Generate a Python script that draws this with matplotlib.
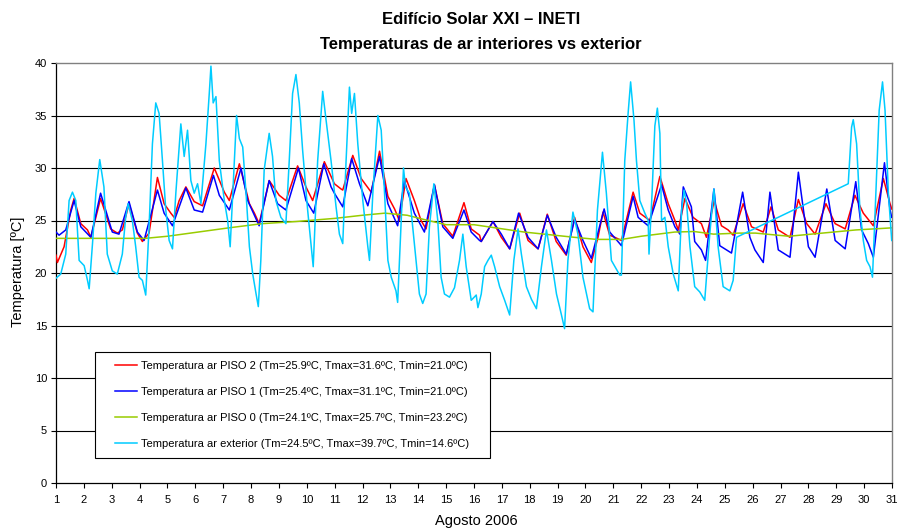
import matplotlib
matplotlib.use("Agg")
import matplotlib.pyplot as plt
from matplotlib.patches import Rectangle

# ---------------- data ----------------
ext_day = [1.00, 1.17, 1.35, 1.47, 1.59, 1.71, 1.83, 2.01, 2.13, 2.19, 2.31, 2.43, 2.57, 2.72, 2.84,
           3.02, 3.20, 3.38, 3.50, 3.59, 3.74, 3.86, 3.98, 4.10, 4.22, 4.34, 4.46, 4.58, 4.70, 4.82,
           4.94, 5.06, 5.18, 5.30, 5.48, 5.60, 5.72, 5.84, 5.96, 6.08, 6.20, 6.38, 6.50, 6.56, 6.64,
           6.74, 6.86, 7.04, 7.16, 7.25, 7.37, 7.48, 7.58, 7.70, 7.82, 7.94, 8.06, 8.18, 8.26, 8.35,
           8.47, 8.65, 8.77, 8.89, 9.07, 9.25, 9.37, 9.49, 9.61, 9.73, 9.85, 10.03, 10.23, 10.39,
           10.57, 10.69, 10.87, 11.05, 11.17, 11.29, 11.41, 11.53, 11.61, 11.71, 11.83, 12.01, 12.19,
           12.25, 12.37, 12.55, 12.67, 12.79, 12.91, 13.03, 13.20, 13.26, 13.38, 13.47, 13.54, 13.68,
           13.86, 14.04, 14.16, 14.28, 14.40, 14.56, 14.70, 14.82, 14.94, 15.12, 15.30, 15.48, 15.60,
           15.72, 15.90, 16.08, 16.14, 16.26, 16.38, 16.50, 16.62, 16.74, 16.92, 17.10, 17.28, 17.43,
           17.58, 17.70, 17.88, 18.06, 18.24, 18.42, 18.60, 18.78, 18.96, 19.13, 19.25, 19.37, 19.55,
           19.73, 19.91, 20.15, 20.27, 20.43, 20.61, 20.75, 20.93, 21.23, 21.29, 21.41, 21.53, 21.62,
           21.74, 21.83, 21.95, 22.13, 22.25, 22.28, 22.39, 22.49, 22.58, 22.67, 22.73, 22.85, 22.97,
           23.15, 23.33, 23.45, 23.54, 23.63, 23.75, 23.92, 24.10, 24.28, 24.46, 24.61, 24.76, 24.94,
           25.18, 25.30, 25.42, 29.43, 29.55, 29.61, 29.73, 29.85, 29.97, 30.09, 30.21, 30.30, 30.42,
           30.54, 30.66, 30.75, 30.87, 30.99]
ext_temp = [19.5, 19.9, 21.8, 26.9, 27.7, 26.9, 21.2, 20.7, 19.3, 18.5, 22.8, 27.6, 30.8, 28.2, 21.8,
            20.2, 19.9, 21.8, 25.3, 26.6, 25.0, 22.5, 19.6, 19.3, 17.9, 24.4, 32.3, 36.2, 35.2, 30.7,
            26.0, 23.1, 22.3, 27.6, 34.2, 31.1, 33.6, 28.8, 27.6, 28.5, 26.6, 32.3, 37.1, 39.7, 36.2,
            36.8, 30.7, 26.9, 25.0, 22.5, 29.1, 35.0, 32.8, 32.0, 27.6, 22.5, 19.9, 18.0, 16.8, 21.2,
            29.8, 33.3, 31.1, 26.9, 25.3, 24.7, 30.7, 37.1, 38.9, 36.2, 31.7, 26.0, 20.6, 30.7,
            37.3, 34.6, 30.7, 26.3, 23.7, 22.8, 30.7, 37.7, 35.2, 37.1, 32.3, 26.9, 22.5,
            21.2, 27.6, 35.0, 33.6, 27.6, 21.2, 19.6, 18.3, 17.2, 24.4, 30.0, 28.2, 27.6,
            22.8, 18.0, 17.1, 18.0, 24.4, 28.5, 25.0, 19.6, 18.0, 17.7, 18.6, 21.2, 23.7,
            20.6, 17.4, 17.9, 16.7, 18.0, 20.6, 21.2, 21.7, 20.6, 18.7, 17.4, 16.0, 21.2,
            24.2, 21.8, 18.7, 17.5, 16.6, 20.6, 24.1, 21.2, 18.0, 16.1, 14.7, 21.2, 25.8,
            23.7, 19.6, 16.6, 16.3, 26.0, 31.5, 27.6, 21.2, 19.8, 19.8, 30.7, 35.2, 38.2,
            34.6, 30.7, 26.9, 25.7, 25.0, 21.8, 27.6, 34.0, 35.7, 33.3, 25.0, 25.3, 22.5,
            19.9, 18.3, 26.0, 27.9, 26.6, 22.5, 18.7, 18.2, 17.4, 23.7, 28.0, 22.5, 18.7,
            18.3, 19.3, 23.4, 28.5, 33.9, 34.6, 32.3, 26.0, 23.1, 21.2, 20.6, 19.6, 27.6,
            35.5, 38.2, 35.5, 27.6, 23.1]

p2_day = [1.00, 1.05, 1.29, 1.53, 1.65, 1.89, 2.13, 2.25, 2.43, 2.60, 2.96, 3.20, 3.38, 3.62, 3.92,
          4.10, 4.34, 4.64, 4.88, 5.12, 5.24, 5.42, 5.66, 5.96, 6.26, 6.68, 7.04, 7.22, 7.58, 7.94,
          8.12, 8.29, 8.65, 9.01, 9.25, 9.67, 9.97, 10.21, 10.63, 10.99, 11.23, 11.29, 11.65, 11.95,
          12.31, 12.61, 12.91, 13.15, 13.32, 13.56, 13.86, 14.10, 14.28, 14.58, 14.88, 15.24, 15.64,
          15.90, 16.20, 16.26, 16.68, 16.98, 17.28, 17.64, 17.94, 18.30, 18.63, 18.95, 19.31, 19.61,
          19.91, 20.21, 20.45, 20.63, 20.87, 21.05, 21.29, 21.71, 21.95, 22.31, 22.67, 22.97, 23.21,
          23.33, 23.57, 23.86, 24.16, 24.34, 24.62, 24.88, 25.12, 25.30, 25.66, 25.96, 26.38, 26.66,
          26.92, 27.34, 27.64, 27.94, 28.24, 28.63, 28.96, 29.32, 29.67, 29.97, 30.33, 30.69, 30.93,
          30.99]
p2_temp = [21.7, 21.0, 22.5, 26.0, 27.1, 24.7, 24.1, 23.4, 25.3, 27.1, 24.2, 23.8, 24.1, 26.6, 23.8,
           23.0, 23.8, 29.1, 26.6, 25.7, 25.3, 26.9, 28.2, 26.8, 26.4, 30.0, 27.7, 26.9, 30.4, 26.6,
           25.7, 24.7, 28.8, 27.4, 26.9, 30.2, 28.2, 26.9, 30.6, 28.5, 28.0, 27.9, 31.2, 29.0,
           27.7, 31.6, 27.3, 26.1, 25.0, 29.0, 26.9, 25.0, 24.2, 28.4, 24.7, 23.5, 26.7,
           24.2, 23.6, 23.0, 24.9, 23.4, 22.3, 25.7, 23.1, 22.3, 25.6, 23.0, 21.7, 25.3,
           22.5, 21.0, 23.4, 25.8, 23.6, 23.4, 23.1, 27.7, 25.7, 25.0, 29.2, 26.6, 25.0,
           24.1, 27.1, 25.3, 24.7, 23.4, 26.9, 24.5, 24.1, 23.6, 26.6, 24.4, 23.9, 26.3,
           24.1, 23.4, 27.0, 24.7, 23.7, 26.6, 24.7, 24.2, 27.4, 25.7, 24.5, 29.0, 26.6,
           26.1]

p1_day = [1.00, 1.11, 1.35, 1.65, 1.89, 2.25, 2.60, 3.02, 3.26, 3.62, 3.92, 4.16, 4.64, 4.88, 5.18,
          5.66, 5.96, 6.26, 6.65, 6.86, 7.22, 7.64, 7.88, 8.29, 8.65, 8.95, 9.25, 9.70, 9.97, 10.25,
          10.61, 10.87, 10.99, 11.29, 11.61, 11.89, 12.19, 12.61, 12.91, 13.26, 13.50, 13.86, 14.22,
          14.58, 14.88, 15.24, 15.64, 15.90, 16.20, 16.26, 16.68, 16.98, 17.28, 17.60, 17.94, 18.30,
          18.63, 18.95, 19.31, 19.61, 19.91, 20.21, 20.67, 20.87, 21.23, 21.29, 21.71, 21.89, 22.25,
          22.73, 22.97, 23.21, 23.39, 23.51, 23.80, 23.92, 24.16, 24.31, 24.61, 24.82, 25.00, 25.24,
          25.64, 25.90, 26.08, 26.38, 26.62, 26.92, 27.34, 27.64, 28.00, 28.24, 28.66, 28.96, 29.32,
          29.70, 29.91, 30.15, 30.33, 30.73, 30.93, 30.99]
p1_temp = [23.9, 23.6, 24.1, 26.9, 24.4, 23.4, 27.6, 23.9, 23.7, 26.8, 23.9, 23.1, 27.9, 25.7, 24.5,
           28.1, 26.0, 25.8, 29.3, 27.4, 26.0, 30.0, 26.9, 24.5, 28.8, 26.6, 26.0, 30.0, 26.9, 25.7,
           30.4, 28.2, 27.6, 26.3, 30.9, 28.5, 26.4, 31.1, 26.6, 24.5, 28.8, 25.7, 23.9,
           28.4, 24.4, 23.3, 26.0, 23.9, 23.1, 23.0, 24.9, 23.7, 22.3, 25.7, 23.4, 22.3,
           25.5, 23.4, 21.8, 25.1, 23.1, 21.4, 26.1, 23.9, 22.8, 22.6, 27.3, 25.3, 24.5,
           28.4, 26.0, 24.4, 23.7, 28.2, 26.3, 23.0, 22.2, 21.2, 28.0, 22.6, 22.3, 21.9,
           27.7, 23.4, 22.2, 21.0, 27.7, 22.2, 21.5, 29.6, 22.5, 21.5, 28.0, 23.1, 22.3,
           28.7, 24.1, 22.8, 21.5, 30.5, 26.0, 25.3]

p0_day = [1.0, 2.4, 3.0, 4.2, 5.0, 6.1, 7.2, 8.4, 9.6, 11.0, 12.0, 12.8, 13.6, 14.2, 15.0, 16.0,
          17.8, 19.6, 20.4, 21.3, 22.0, 23.2, 23.9, 24.6, 25.5, 26.1, 27.3, 28.5, 29.7, 31.0]
p0_temp = [23.3, 23.3, 23.3, 23.3, 23.5, 23.9, 24.3, 24.7, 24.9, 25.2, 25.5, 25.7, 25.5, 25.1, 24.6,
           24.6, 23.9, 23.4, 23.2, 23.2, 23.5, 23.9, 23.95, 23.7, 23.8, 23.8, 23.5, 23.8, 24.1, 24.3]

labels = ["Temperatura ar PISO 2 (Tm=25.9ºC, Tmax=31.6ºC, Tmin=21.0ºC)",
          "Temperatura ar PISO 1 (Tm=25.4ºC, Tmax=31.1ºC, Tmin=21.0ºC)",
          "Temperatura ar PISO 0 (Tm=24.1ºC, Tmax=25.7ºC, Tmin=23.2ºC)",
          "Temperatura ar exterior (Tm=24.5ºC, Tmax=39.7ºC, Tmin=14.6ºC)"]
x_ticks = list(range(1, 32))
y_ticks = list(range(0, 41, 5))

# ---------------- figure ----------------
plt.rcParams['font.family'] = ['Liberation Sans', 'DejaVu Sans']

fig = plt.figure(figsize=(9, 5.31), dpi=100)
W, H = 900, 531
L, R, T, B = 56, 892, 63, 483
ax = fig.add_axes([L / W, 1 - B / H, (R - L) / W, (B - T) / H])

lw = 1.1
l2, = ax.plot(p2_day, p2_temp, color='#FF0000', lw=lw, zorder=3)
l1, = ax.plot(p1_day, p1_temp, color='#0000FF', lw=lw, zorder=4)
l0, = ax.plot(p0_day, p0_temp, color='#99CC00', lw=lw, zorder=5)
le, = ax.plot(ext_day, ext_temp, color='#00CCFF', lw=lw, zorder=6)

ax.set_xlim(1, 31)
ax.set_ylim(0, 40)
ax.set_xticks(x_ticks)
ax.set_yticks(y_ticks)
for yv in y_ticks[1:-1]:
    ax.axhline(yv, color='black', lw=0.8, zorder=1)

ax.tick_params(direction='out', length=3.5, width=0.8, labelsize=8, colors='black', pad=3)
ax.tick_params(axis='x', pad=5)
for s in ['left', 'bottom']:
    ax.spines[s].set_color('black')
    ax.spines[s].set_linewidth(0.9)
for s in ['top', 'right']:
    ax.spines[s].set_color('#808080')
    ax.spines[s].set_linewidth(1.0)

# legend box
axw, axh = R - L, B - T
ax.add_patch(Rectangle(((95 - L) / axw, (B - 458) / axh), (490 - 95) / axw, (458 - 352) / axh,
                       transform=ax.transAxes, facecolor='white', edgecolor='black',
                       lw=0.8, zorder=7))
leg = ax.legend([l2, l1, l0, le], labels, loc='upper left',
                bbox_to_anchor=((115 - L) / axw, (B - 361) / axh), frameon=False,
                fontsize=8, handlelength=2.0, handletextpad=0.3, labelspacing=1.43,
                borderpad=0, borderaxespad=0)
leg.set_zorder(8)
for line in leg.get_lines():
    line.set_linewidth(1.1)

fig.text(481 / W, 1 - 20 / H, 'Edifício Solar XXI – INETI', ha='center', va='center',
         fontsize=12, fontweight='bold')
fig.text(481 / W, 1 - 44 / H, 'Temperaturas de ar interiores vs exterior', ha='center',
         va='center', fontsize=12, fontweight='bold')
fig.text(18 / W, 1 - 272 / H, 'Temperatura [ºC]', rotation=90, ha='center', va='center',
         fontsize=10.5)
fig.text(476 / W, 1 - 521 / H, 'Agosto 2006', ha='center', va='center', fontsize=10.5)

fig.savefig('out.png', dpi=100)
